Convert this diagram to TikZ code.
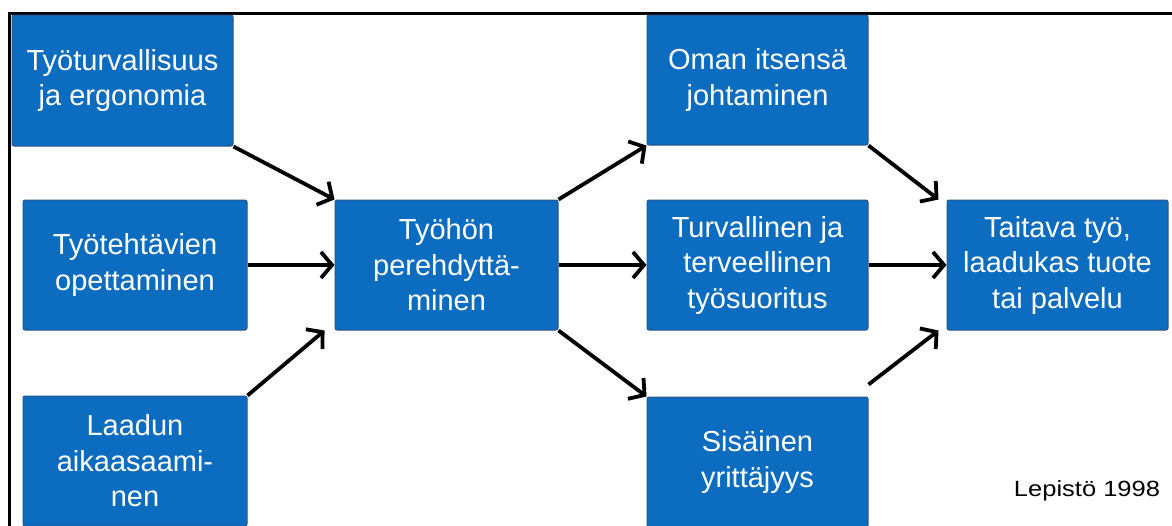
\documentclass[tikz,border=0pt]{standalone}
\usepackage{fontspec}
\setmainfont{Liberation Sans}
\usetikzlibrary{arrows.meta}
\definecolor{boxblue}{RGB}{12,108,192}
\definecolor{boxedge}{RGB}{45,85,135}
\begin{document}
\begin{tikzpicture}[x=1pt,y=-1pt,
  box/.style={draw=boxedge, line width=1pt, fill=boxblue, rounded corners=2pt,
    text=white, align=center, font=\fontsize{29}{35.5}\selectfont, inner sep=0pt,
    minimum width=221pt, minimum height=130pt},
  arr/.style={line width=3.8pt, -{Straight Barb[length=11pt,width=26pt]}},
  frame/.style={line width=3pt}]
\clip (0,0) rectangle (1172,525);
\fill[white] (0,0) rectangle (1172,525);
\draw[frame] (9.5,530) -- (9.5,13) -- (1180,13);

\node[box, minimum width=221pt, minimum height=131pt] (b1) at (122.5,80.5) {Työturvallisuus\\ja ergonomia};
\node[box, minimum width=224pt] (b2) at (135,265) {Työtehtävien\\opettaminen};
\node[box, minimum width=224pt] (b3) at (135,461) {Laadun\\aikaasaami-\\nen};
\node[box, minimum width=223pt] (c) at (446.5,265) {Työhön\\perehdyttä-\\minen};
\node[box] (o) at (757.5,80) {Oman itsensä\\johtaminen};
\node[box] (t) at (757.5,265) {Turvallinen ja\\terveellinen\\työsuoritus};
\node[box] (s) at (757.5,462) {Sisäinen\\yrittäjyys};
\node[box] (r) at (1057.5,265) {Taitava työ,\\laadukas tuote\\tai palvelu};

\node[font=\fontsize{22}{26}\selectfont, inner sep=0pt] (lep) at (1087,491) {\scalebox{1.16}[1]{Lepistö 1998}};

\draw[arr] (b1.south east) -- (c.north west);
\draw[arr] (b2.east) -- (c.west);
\draw[arr] (b3.north east) -- ([xshift=-10pt]c.south west);
\draw[arr] (c.north east) -- (o.south west);
\draw[arr] (c.east) -- (t.west);
\draw[arr] (c.south east) -- (s.north west);
\draw[arr] (o.south east) -- ([xshift=-8pt]r.north west);
\draw[arr] (t.east) -- (r.west);
\draw[arr] ([yshift=12pt]s.north east) -- ([xshift=-8pt]r.south west);
\end{tikzpicture}
\end{document}
